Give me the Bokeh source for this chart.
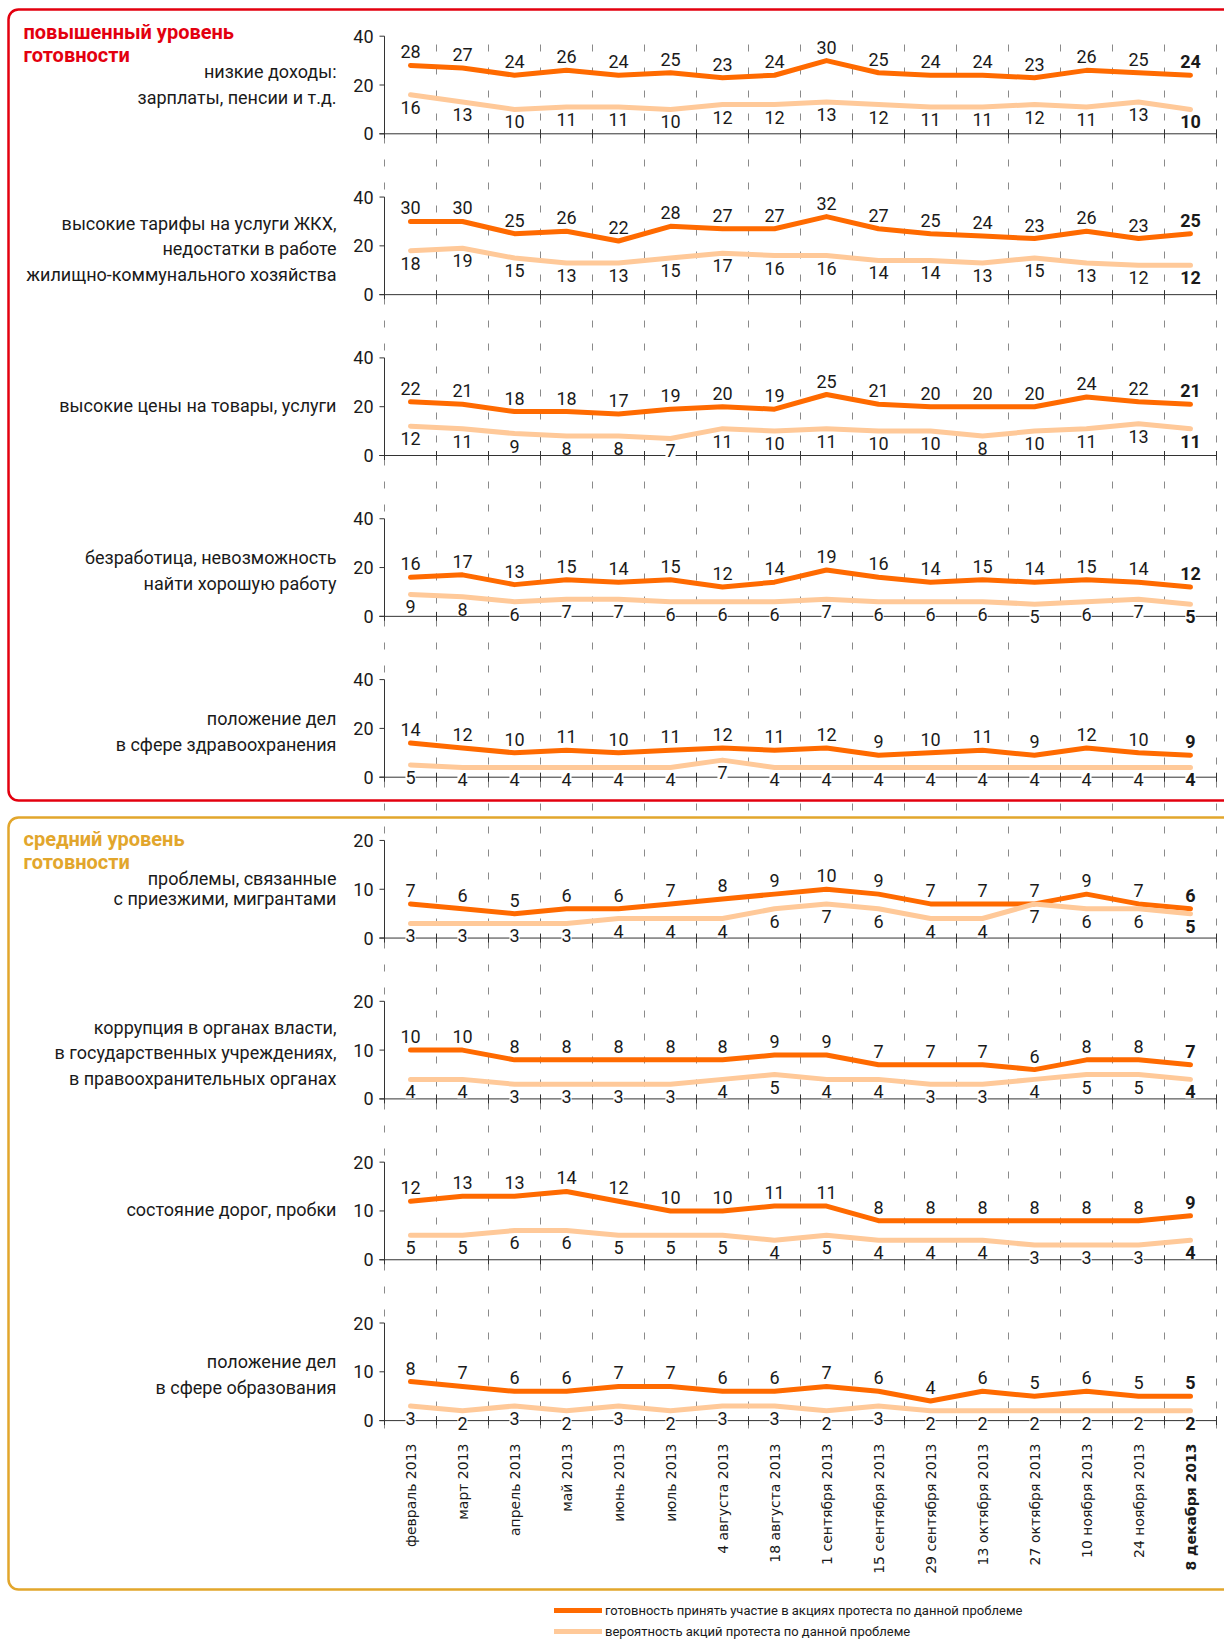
import numpy as np
from bokeh.plotting import figure
from bokeh.models import Range1d, BoxAnnotation, Legend, LegendItem
from bokeh.core.properties import value
from bokeh.embed import file_html
from bokeh.resources import INLINE

# ---------------- data ----------------
categories = ["февраль 2013", "март 2013", "апрель 2013", "май 2013", "июнь 2013",
              "июль 2013", "4 августа 2013", "18 августа 2013", "1 сентября 2013",
              "15 сентября 2013", "29 сентября 2013", "13 октября 2013",
              "27 октября 2013", "10 ноября 2013", "24 ноября 2013", "8 декабря 2013"]

section_high = ["повышенный уровень", "готовности"]
section_mid = ["средний уровень", "готовности"]

panel_titles = [
    ["низкие доходы:", "зарплаты, пенсии и т.д."],
    ["высокие тарифы на услуги ЖКХ,", "недостатки в работе", "жилищно-коммунального хозяйства"],
    ["высокие цены на товары, услуги"],
    ["безработица, невозможность", "найти хорошую работу"],
    ["положение дел", "в сфере здравоохранения"],
    ["проблемы, связанные", "с приезжими, мигрантами"],
    ["коррупция в органах власти,", "в государственных учреждениях,", "в правоохранительных органах"],
    ["состояние дорог, пробки"],
    ["положение дел", "в сфере образования"],
]

ready_income = [28, 27, 24, 26, 24, 25, 23, 24, 30, 25, 24, 24, 23, 26, 25, 24]
prob_income = [16, 13, 10, 11, 11, 10, 12, 12, 13, 12, 11, 11, 12, 11, 13, 10]
ready_tariffs = [30, 30, 25, 26, 22, 28, 27, 27, 32, 27, 25, 24, 23, 26, 23, 25]
prob_tariffs = [18, 19, 15, 13, 13, 15, 17, 16, 16, 14, 14, 13, 15, 13, 12, 12]
ready_prices = [22, 21, 18, 18, 17, 19, 20, 19, 25, 21, 20, 20, 20, 24, 22, 21]
prob_prices = [12, 11, 9, 8, 8, 7, 11, 10, 11, 10, 10, 8, 10, 11, 13, 11]
ready_unemployment = [16, 17, 13, 15, 14, 15, 12, 14, 19, 16, 14, 15, 14, 15, 14, 12]
prob_unemployment = [9, 8, 6, 7, 7, 6, 6, 6, 7, 6, 6, 6, 5, 6, 7, 5]
ready_health = [14, 12, 10, 11, 10, 11, 12, 11, 12, 9, 10, 11, 9, 12, 10, 9]
prob_health = [5, 4, 4, 4, 4, 4, 7, 4, 4, 4, 4, 4, 4, 4, 4, 4]
ready_migrants = [7, 6, 5, 6, 6, 7, 8, 9, 10, 9, 7, 7, 7, 9, 7, 6]
prob_migrants = [3, 3, 3, 3, 4, 4, 4, 6, 7, 6, 4, 4, 7, 6, 6, 5]
ready_corruption = [10, 10, 8, 8, 8, 8, 8, 9, 9, 7, 7, 7, 6, 8, 8, 7]
prob_corruption = [4, 4, 3, 3, 3, 3, 4, 5, 4, 4, 3, 3, 4, 5, 5, 4]
ready_roads = [12, 13, 13, 14, 12, 10, 10, 11, 11, 8, 8, 8, 8, 8, 8, 9]
prob_roads = [5, 5, 6, 6, 5, 5, 5, 4, 5, 4, 4, 4, 3, 3, 3, 4]
ready_education = [8, 7, 6, 6, 7, 7, 6, 6, 7, 6, 4, 6, 5, 6, 5, 5]
prob_education = [3, 2, 3, 2, 3, 2, 3, 3, 2, 3, 2, 2, 2, 2, 2, 2]

ready_series = [ready_income, ready_tariffs, ready_prices, ready_unemployment, ready_health,
                ready_migrants, ready_corruption, ready_roads, ready_education]
prob_series = [prob_income, prob_tariffs, prob_prices, prob_unemployment, prob_health,
               prob_migrants, prob_corruption, prob_roads, prob_education]
y_max = [40, 40, 40, 40, 40, 20, 20, 20, 20]
y_ticks = [[0, 20, 40]] * 5 + [[0, 10, 20]] * 4

legend_labels = ["готовность принять участие в акциях протеста по данной проблеме",
                 "вероятность акций протеста по данной проблеме"]

# ---------------- style / layout ----------------
FONT = "Roboto"
CAT_FONT = "DejaVu Sans"
DARK = "#FF6A00"
LIGHT = "#FFC999"
RED = "#E3000F"
GOLD = "#E2A62C"
TXT = "#1a1a1a"

W, H = 1224, 1640
X0, DX = 410.0, 52.0          # page-pixel position of first category, step
BASE0, STEP, PANEL_H = 133.3, 160.85, 97.6

p = figure(width=W, height=H, x_range=Range1d(0, W), y_range=Range1d(H, 0),
           x_axis_type=None, y_axis_type=None, toolbar_location=None,
           output_backend="svg", min_border=0, outline_line_color=None)
p.background_fill_color = "white"
p.border_fill_color = "white"

p.extra_x_ranges["cat"] = Range1d(start=(0 - X0) / DX, end=(W - X0) / DX)

n = len(categories)
idx = np.arange(n)
bounds = np.arange(n + 1) - 0.5

# frames
p.add_layout(BoxAnnotation(left=8, right=1260, top=9, bottom=800, fill_alpha=0,
                           line_color=RED, line_alpha=1, line_width=2.5,
                           border_radius=10, level="underlay"))
p.add_layout(BoxAnnotation(left=8, right=1260, top=817, bottom=1589, fill_alpha=0,
                           line_color=GOLD, line_alpha=1, line_width=2.5,
                           border_radius=10, level="underlay"))

# section titles
for lines, col, ytop in [(section_high, RED, 31), (section_mid, GOLD, 838)]:
    p.text(x=[23] * len(lines), y=[ytop + 23 * i for i in range(len(lines))], text=lines,
           text_font=value(FONT), text_font_style="bold", text_font_size="20px",
           text_color=col, text_align="left", text_baseline="middle")

# dashed vertical separators
p.segment(x0=bounds, y0=[44] * (n + 1), x1=bounds, y1=[1428] * (n + 1), x_range_name="cat",
          line_color="#8a8a8a", line_width=1, line_dash="7 16")

legend_renderers = []
for k in range(9):
    b = BASE0 + STEP * k
    ppu = PANEL_H / y_max[k]
    name = f"p{k}"
    p.extra_y_ranges[name] = Range1d(start=(b - H) / ppu, end=b / ppu)

    # y axis
    p.segment(x0=[-0.5], y0=[0], x1=[-0.5], y1=[y_max[k]], x_range_name="cat",
              y_range_name=name, line_color="#333333", line_width=1)
    p.segment(x0=[379] * 3, y0=y_ticks[k], x1=[384] * 3, y1=y_ticks[k], y_range_name=name,
              line_color="#333333", line_width=1)
    p.text(x=[373] * 3, y=y_ticks[k], text=[str(t) for t in y_ticks[k]], y_range_name=name,
           text_font=value(FONT), text_font_size="18px", text_color=TXT,
           text_align="right", text_baseline="middle")
    # baseline
    p.segment(x0=[-0.6], y0=[0], x1=[bounds[-1]], y1=[0], x_range_name="cat",
              y_range_name=name, line_color="#333333", line_width=1)

    # series lines
    r_dark = p.line(idx, ready_series[k], x_range_name="cat", y_range_name=name,
                    line_color=DARK, line_width=5, line_join="round", line_cap="round")
    r_light = p.line(idx, prob_series[k], x_range_name="cat", y_range_name=name,
                     line_color=LIGHT, line_width=5, line_join="round", line_cap="round")
    if k == 0:
        legend_renderers = [r_dark, r_light]

    # boundary ticks
    p.scatter(bounds, [0] * (n + 1), marker="dash", angle=np.pi / 2, size=9,
              x_range_name="cat", y_range_name=name, line_color="#333333", line_width=1)

    # value labels
    for sel, style in [(slice(0, n - 1), "normal"), (slice(n - 1, n), "bold")]:
        p.text(idx[sel], ready_series[k][sel], text=[str(v) for v in ready_series[k][sel]],
               x_range_name="cat", y_range_name=name, y_offset=-7,
               text_font=value(FONT), text_font_size="18px", text_font_style=style,
               text_color=TXT, text_align="center", text_baseline="bottom")
        p.text(idx[sel], prob_series[k][sel], text=[str(v) for v in prob_series[k][sel]],
               x_range_name="cat", y_range_name=name, y_offset=6,
               text_font=value(FONT), text_font_size="18px", text_font_style=style,
               text_color=TXT, text_align="center", text_baseline="top",
               background_fill_color="white")

    # panel title (right aligned)
    lines = panel_titles[k]
    nl = len(lines)
    offs = {1: [-50], 2: [-59, -33], 3: [-71, -46, -20]}[nl]
    if k == 5:
        offs = [-60, -40]
    if k == 0:
        offs = [-62, -36]
    p.text(x=[336] * nl, y=[b + o for o in offs], text=lines,
           text_font=value(FONT), text_font_size="18px", text_color=TXT,
           text_align="right", text_baseline="middle")

# category labels
p.text(idx[:-1], [1443] * (n - 1), text=categories[:-1], x_range_name="cat", angle=np.pi / 2,
       text_font=value(CAT_FONT), text_font_size="14px", text_color=TXT,
       text_align="right", text_baseline="middle")
p.text(idx[-1:], [1443], text=categories[-1:], x_range_name="cat", angle=np.pi / 2,
       text_font=value(CAT_FONT), text_font_size="14px", text_font_style="bold",
       text_color=TXT, text_align="right", text_baseline="middle")

legend = Legend(items=[LegendItem(label=legend_labels[0], renderers=[legend_renderers[0]]),
                       LegendItem(label=legend_labels[1], renderers=[legend_renderers[1]])],
                location=(554, 0), orientation="vertical", glyph_width=48, glyph_height=18,
                label_height=18, spacing=3, padding=0, margin=0, label_standoff=3,
                label_text_font=FONT, label_text_font_size="13px", label_text_color=TXT,
                border_line_color=None, background_fill_alpha=0)
p.add_layout(legend)

open("out.html", "w").write(file_html(p, INLINE))
